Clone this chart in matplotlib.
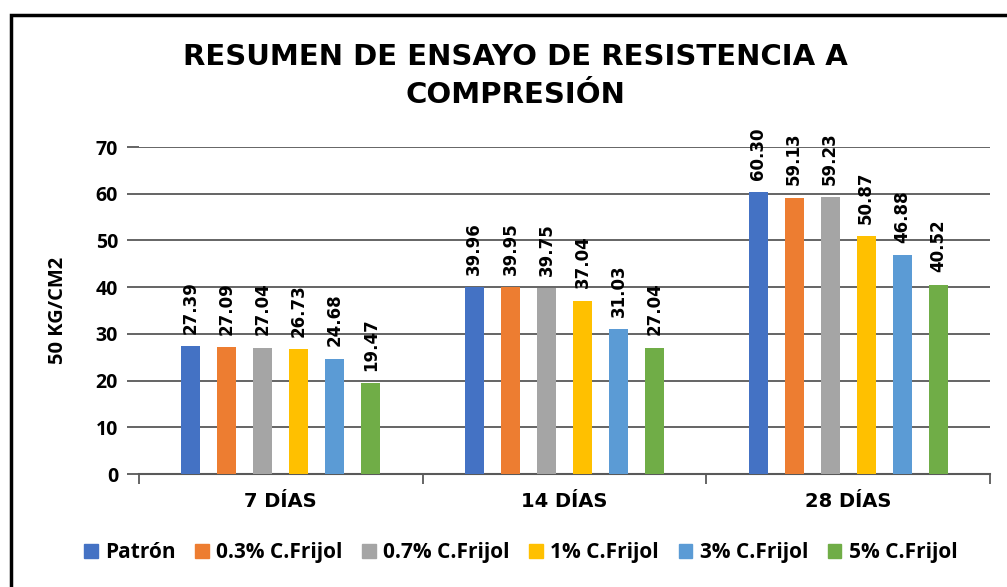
import matplotlib.pyplot as plt
import matplotlib.patches as mpatches
import numpy as np

categories = ["7 DÍAS", "14 DÍAS", "28 DÍAS"]
series = ["Patrón", "0.3% C.Frijol", "0.7% C.Frijol", "1% C.Frijol", "3% C.Frijol", "5% C.Frijol"]
patron = [27.39, 39.96, 60.30]
frijol_03 = [27.09, 39.95, 59.13]
frijol_07 = [27.04, 39.75, 59.23]
frijol_1 = [26.73, 37.04, 50.87]
frijol_3 = [24.68, 31.03, 46.88]
frijol_5 = [19.47, 27.04, 40.52]
colors = ["#4472C4", "#ED7D31", "#A5A5A5", "#FFC000", "#5B9BD5", "#70AD47"]

values = [patron, frijol_03, frijol_07, frijol_1, frijol_3, frijol_5]

plt.rcParams['font.family'] = ['Open Sans', 'DejaVu Sans']

fig = plt.figure(figsize=(10.07, 5.87), dpi=100)
ax = fig.add_axes([0.138, 0.1925, 0.845, 0.557])

# chart frame (only top/left visible in the reference)
fig.patches.append(mpatches.Rectangle((0.011, -0.1), 1.2, 0.1 + 0.974, transform=fig.transFigure,
                                      fill=False, edgecolor="black", linewidth=2.5))

x = np.arange(len(categories))
step = 0.127
width = 0.067
for i, (vals, c) in enumerate(zip(values, colors)):
    pos = x + (i - 2.5) * step
    ax.bar(pos, vals, width=width, color=c, label=series[i], zorder=3)
    for p, v in zip(pos, vals):
        ax.annotate(f"{v:.2f}", (p, v), xytext=(0, 9), textcoords="offset points",
                    rotation=90, ha="center", va="bottom", fontsize=12, fontweight="bold",
                    family="DejaVu Sans")

ax.set_xlim(-0.5, 2.5)
ax.set_ylim(0, 70)
ax.set_yticks(range(0, 71, 10))
ax.yaxis.grid(True, color="#3a3a3a", linewidth=1.1, zorder=0)
ax.set_axisbelow(True)
for s in ["top", "right", "left"]:
    ax.spines[s].set_visible(False)
ax.spines["bottom"].set_color("#595959")
ax.spines["bottom"].set_linewidth(1.5)
ax.set_xticks([-0.5, 0.5, 1.5, 2.5])
ax.set_xticklabels([])
ax.tick_params(axis="x", length=7, color="#595959", width=1.3)
ax.tick_params(axis="y", length=9, color="#3a3a3a", width=1.1, labelsize=14, pad=6)
for t in ax.get_yticklabels():
    t.set_fontweight("bold")
for xi, cat in zip(x, categories):
    ax.text(xi, -5.8, cat, ha="center", va="center", fontsize=14, fontweight="bold",
            family="DejaVu Sans")

ax.set_ylabel("50 KG/CM2", fontsize=14.5, fontweight="bold", labelpad=20)

fig.text(0.512, 0.871, "RESUMEN DE ENSAYO DE RESISTENCIA A\nCOMPRESIÓN", ha="center", va="center",
         fontsize=21, fontweight="bold", family="DejaVu Sans", linespacing=1.45)

handles = [mpatches.Patch(color=c, label=s) for c, s in zip(colors, series)]
fig.legend(handles=handles, loc="center", bbox_to_anchor=(0.517, 0.058), ncol=6, frameon=False,
           prop={"size": 15, "weight": "bold"}, handlelength=0.65, handleheight=0.65,
           handletextpad=0.35, columnspacing=0.95)

fig.savefig("out.png", dpi=100)
